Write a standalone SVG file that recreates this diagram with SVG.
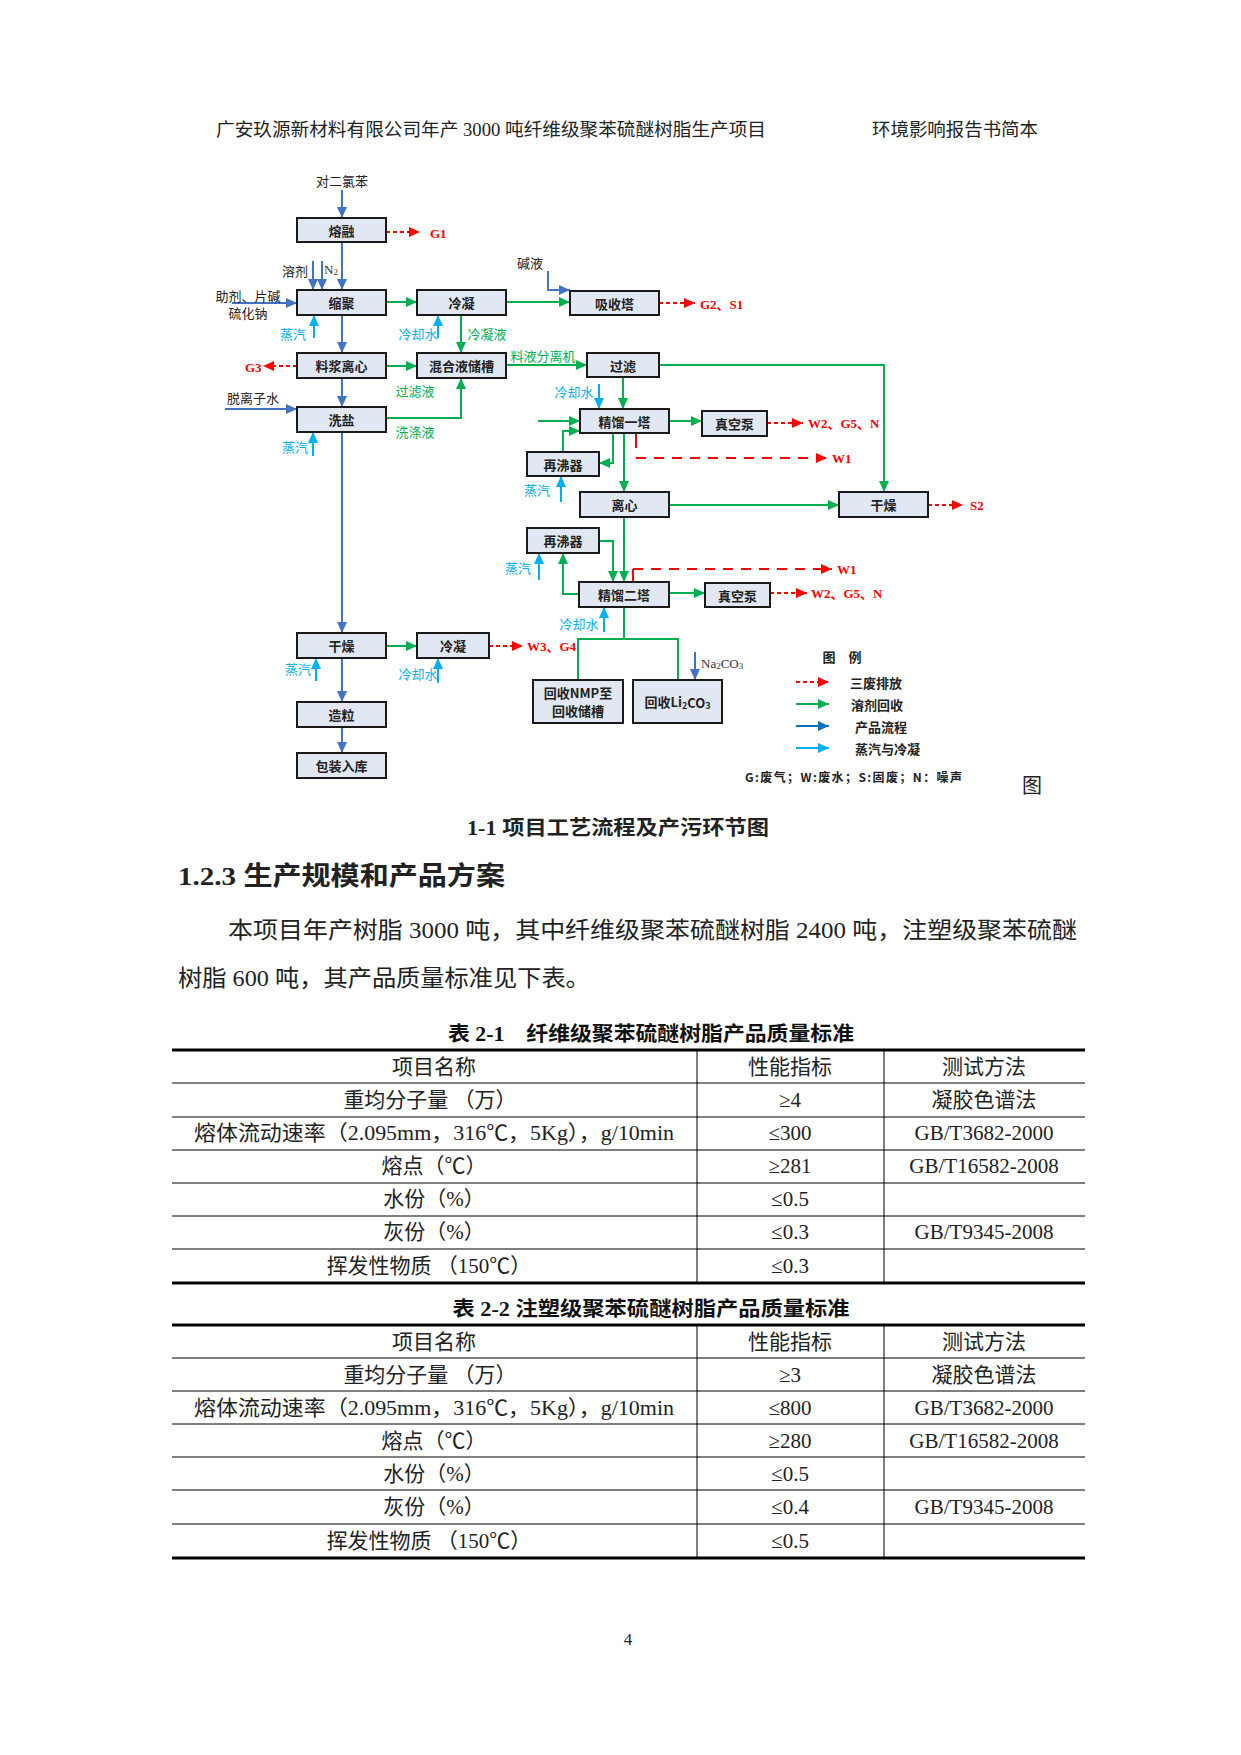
<svg xmlns="http://www.w3.org/2000/svg" width="1241" height="1755" viewBox="0 0 1241 1755">
<style>
.box{fill:#E1E8F3;stroke:#1a1a1a;stroke-width:2}
.bt{font-family:"Noto Sans CJK SC",sans-serif;font-size:13px;font-weight:bold;fill:#222;text-anchor:middle;dominant-baseline:central}
.lb{font-family:"Noto Sans CJK SC",sans-serif;font-size:13px;fill:#222;text-anchor:middle;dominant-baseline:central}
.lg{font-family:"Noto Sans CJK SC",sans-serif;font-size:13px;fill:#00B050;text-anchor:middle;dominant-baseline:central}
.ll{font-family:"Noto Sans CJK SC",sans-serif;font-size:13px;fill:#00B0F0;text-anchor:middle;dominant-baseline:central}
.lr{font-family:"Liberation Serif","Noto Sans CJK SC",serif;font-size:13px;font-weight:bold;fill:#FF0000;dominant-baseline:central}
.ls{font-family:"Liberation Serif","Noto Sans CJK SC",serif;font-size:13px;fill:#333;dominant-baseline:central}
.cb{stroke:#4472C4;stroke-width:2;fill:none;marker-end:url(#ab)}
.cg{stroke:#00B050;stroke-width:2;fill:none;marker-end:url(#ag)}
.cgn{stroke:#00B050;stroke-width:2;fill:none}
.cl{stroke:#00B0F0;stroke-width:2;fill:none;marker-end:url(#al)}
.cd{stroke:#0070C0;stroke-width:2;fill:none;marker-end:url(#ad)}
.cr{stroke:#FF0000;stroke-width:2;fill:none;stroke-dasharray:4 3;marker-end:url(#ar)}
.crl{stroke:#FF0000;stroke-width:2;fill:none;stroke-dasharray:10 8;marker-end:url(#ar)}
.crs{stroke:#FF0000;stroke-width:2;fill:none}
.doc{font-family:"Liberation Serif","Noto Sans CJK SC",serif;fill:#222}
.tt{font-family:"Liberation Serif","Noto Sans CJK SC",serif;font-size:21px;fill:#222;text-anchor:middle;dominant-baseline:central}
.th{font-family:"Liberation Serif","Noto Sans CJK SC",serif;font-size:20px;font-weight:bold;fill:#111;text-anchor:middle;dominant-baseline:central}
.thick{stroke:#000;stroke-width:3}
.thin{stroke:#000;stroke-width:1}
</style>
<defs>
<marker id="ab" viewBox="0 0 11 10" refX="11" refY="5" markerWidth="11" markerHeight="10" markerUnits="userSpaceOnUse" orient="auto"><path d="M0,0 L11,5 L0,10z" fill="#4472C4"/></marker>
<marker id="ag" viewBox="0 0 11 10" refX="11" refY="5" markerWidth="11" markerHeight="10" markerUnits="userSpaceOnUse" orient="auto"><path d="M0,0 L11,5 L0,10z" fill="#00B050"/></marker>
<marker id="al" viewBox="0 0 11 10" refX="11" refY="5" markerWidth="11" markerHeight="10" markerUnits="userSpaceOnUse" orient="auto"><path d="M0,0 L11,5 L0,10z" fill="#00B0F0"/></marker>
<marker id="ad" viewBox="0 0 11 10" refX="11" refY="5" markerWidth="11" markerHeight="10" markerUnits="userSpaceOnUse" orient="auto"><path d="M0,0 L11,5 L0,10z" fill="#0070C0"/></marker>
<marker id="ar" viewBox="0 0 11 10" refX="11" refY="5" markerWidth="11" markerHeight="10" markerUnits="userSpaceOnUse" orient="auto"><path d="M0,0 L11,5 L0,10z" fill="#FF0000"/></marker>
</defs>
<rect width="1241" height="1755" fill="#fff"/>

<!-- page header -->
<text class="doc" x="216" y="136" font-size="18" textLength="550" lengthAdjust="spacingAndGlyphs">广安玖源新材料有限公司年产 3000 吨纤维级聚苯硫醚树脂生产项目</text>
<text class="doc" x="872" y="136" font-size="18" textLength="166" lengthAdjust="spacingAndGlyphs">环境影响报告书简本</text>

<!-- connectors -->
<g id="connectors">
<!-- blue product flow -->
<line class="cb" x1="342" y1="190" x2="342" y2="218"/>
<line class="cb" x1="342" y1="242" x2="342" y2="290"/>
<line class="cb" x1="313" y1="261" x2="313" y2="290"/>
<line class="cb" x1="322" y1="261" x2="322" y2="290"/>
<line class="cb" x1="232" y1="303" x2="297" y2="303"/>
<line class="cb" x1="342" y1="315" x2="342" y2="353"/>
<line class="cb" x1="342" y1="378" x2="342" y2="407"/>
<line class="cb" x1="225" y1="409" x2="297" y2="409"/>
<line class="cb" x1="342" y1="432" x2="342" y2="633"/>
<line class="cb" x1="342" y1="658" x2="342" y2="702"/>
<line class="cb" x1="342" y1="727" x2="342" y2="753"/>
<polyline class="cb" points="548,271 548,290 570,290"/>
<line class="cb" x1="695" y1="652" x2="695" y2="680"/>
<!-- light blue steam / cooling -->
<line class="cl" x1="314" y1="338" x2="314" y2="315"/>
<line class="cl" x1="438" y1="338" x2="438" y2="315"/>
<line class="cl" x1="313" y1="456" x2="313" y2="432"/>
<line class="cl" x1="599" y1="384" x2="599" y2="409"/>
<line class="cl" x1="561" y1="502" x2="561" y2="476"/>
<line class="cl" x1="539" y1="580" x2="539" y2="553"/>
<line class="cl" x1="604" y1="632" x2="604" y2="607"/>
<line class="cl" x1="316" y1="681" x2="316" y2="658"/>
<line class="cl" x1="438" y1="683" x2="438" y2="658"/>
<!-- green solvent recovery -->
<line class="cg" x1="386" y1="302" x2="417" y2="302"/>
<line class="cg" x1="506" y1="302" x2="570" y2="302"/>
<line class="cg" x1="461" y1="315" x2="461" y2="353"/>
<line class="cg" x1="386" y1="366" x2="417" y2="366"/>
<polyline class="cg" points="386,418 461,418 461,378"/>
<line class="cg" x1="506" y1="365" x2="587" y2="365"/>
<polyline class="cg" points="659,365 884,365 884,492"/>
<line class="cg" x1="623" y1="377" x2="623" y2="409"/>
<line class="cg" x1="538" y1="421" x2="580" y2="421"/>
<line class="cg" x1="669" y1="421" x2="702" y2="421"/>
<polyline class="cg" points="613,433 613,463 599,463"/>
<polyline class="cg" points="563,452 563,431 580,431"/>
<line class="cg" x1="624" y1="433" x2="624" y2="492"/>
<line class="cg" x1="669" y1="505" x2="839" y2="505"/>
<line class="cg" x1="624" y1="517" x2="624" y2="582"/>
<polyline class="cg" points="599,541 613,541 613,582"/>
<polyline class="cg" points="579,594 563,594 563,553"/>
<line class="cg" x1="669" y1="593" x2="705" y2="593"/>
<polyline class="cgn" points="624,607 624,639"/>
<polyline class="cgn" points="578,680 578,639 678,639 678,680"/>
<line class="cg" x1="386" y1="646" x2="417" y2="646"/>
<!-- red emissions -->
<line class="cr" x1="386" y1="232" x2="420" y2="232"/>
<line class="cr" x1="659" y1="303" x2="695" y2="303"/>
<line class="cr" x1="297" y1="366" x2="263" y2="366"/>
<line class="cr" x1="767" y1="423" x2="803" y2="423"/>
<line class="crs" x1="636" y1="433" x2="636" y2="448"/>
<line class="crl" x1="636" y1="458" x2="827" y2="458"/>
<line class="cr" x1="770" y1="593" x2="807" y2="593"/>
<line class="crs" x1="633" y1="569" x2="633" y2="582"/>
<line class="crl" x1="633" y1="569" x2="832" y2="569"/>
<line class="cr" x1="489" y1="646" x2="523" y2="646"/>
<line class="cr" x1="928" y1="505" x2="963" y2="505"/>
</g>

<!-- nodes -->
<g id="n-rongrong"><rect class="box" x="297" y="218" width="89" height="24"/><text class="bt" x="341.5" y="230">熔融</text></g>
<g id="n-suoju"><rect class="box" x="297" y="290" width="89" height="25"/><text class="bt" x="341.5" y="302.5">缩聚</text></g>
<g id="n-lengning1"><rect class="box" x="417" y="290" width="89" height="25"/><text class="bt" x="461.5" y="302.5">冷凝</text></g>
<g id="n-xishouta"><rect class="box" x="570" y="291" width="89" height="24"/><text class="bt" x="614.5" y="303">吸收塔</text></g>
<g id="n-liaojiang"><rect class="box" x="297" y="353" width="89" height="25"/><text class="bt" x="341.5" y="365.5">料浆离心</text></g>
<g id="n-hunhe"><rect class="box" x="417" y="353" width="89" height="25"/><text class="bt" x="461.5" y="365.5">混合液储槽</text></g>
<g id="n-guolv"><rect class="box" x="587" y="353" width="72" height="24"/><text class="bt" x="623" y="365">过滤</text></g>
<g id="n-xiyan"><rect class="box" x="297" y="407" width="89" height="25"/><text class="bt" x="341.5" y="419.5">洗盐</text></g>
<g id="n-jingliu1"><rect class="box" x="580" y="409" width="89" height="24"/><text class="bt" x="624.5" y="421">精馏一塔</text></g>
<g id="n-zhenkong1"><rect class="box" x="702" y="411" width="65" height="25"/><text class="bt" x="734.5" y="423.5">真空泵</text></g>
<g id="n-feiqi1"><rect class="box" x="527" y="452" width="72" height="24"/><text class="bt" x="563" y="464">再沸器</text></g>
<g id="n-lixin"><rect class="box" x="580" y="492" width="89" height="25"/><text class="bt" x="624.5" y="504.5">离心</text></g>
<g id="n-ganzao2"><rect class="box" x="839" y="492" width="89" height="25"/><text class="bt" x="883.5" y="504.5">干燥</text></g>
<g id="n-feiqi2"><rect class="box" x="527" y="528" width="72" height="25"/><text class="bt" x="563" y="540.5">再沸器</text></g>
<g id="n-jingliu2"><rect class="box" x="579" y="582" width="90" height="25"/><text class="bt" x="624" y="594.5">精馏二塔</text></g>
<g id="n-zhenkong2"><rect class="box" x="705" y="583" width="65" height="24"/><text class="bt" x="737.5" y="595">真空泵</text></g>
<g id="n-ganzao1"><rect class="box" x="297" y="633" width="89" height="25"/><text class="bt" x="341.5" y="645.5">干燥</text></g>
<g id="n-lengning2"><rect class="box" x="417" y="633" width="72" height="25"/><text class="bt" x="453" y="645.5">冷凝</text></g>
<g id="n-zaoli"><rect class="box" x="297" y="702" width="89" height="25"/><text class="bt" x="341.5" y="714.5">造粒</text></g>
<g id="n-baozhuang"><rect class="box" x="297" y="753" width="89" height="25"/><text class="bt" x="341.5" y="765.5">包装入库</text></g>
<g id="n-nmp"><rect class="box" x="533" y="680" width="90" height="43"/><text class="bt" x="578" y="692">回收NMP至</text><text class="bt" x="578" y="710">回收储槽</text></g>
<g id="n-li2co3"><rect class="box" x="633" y="680" width="89" height="43"/><text class="bt" x="677.5" y="701.5">回收Li<tspan font-size="9" dy="3">2</tspan><tspan dy="-3">CO</tspan><tspan font-size="9" dy="3">3</tspan></text></g>

<!-- labels -->
<g id="labels">
<text class="lb" x="342" y="180">对二氯苯</text>
<text class="lb" x="295" y="270">溶剂</text>
<text class="ls" x="324" y="269">N<tspan font-size="9" dy="3">2</tspan></text>
<text class="lb" x="248" y="295" font-size="12">助剂、片碱</text>
<text class="lb" x="248" y="312" font-size="12">硫化钠</text>
<text class="lb" x="530" y="262">碱液</text>
<text class="lb" x="253" y="397">脱离子水</text>
<text class="ls" x="701" y="663">Na<tspan font-size="9" dy="3">2</tspan><tspan dy="-3">CO</tspan><tspan font-size="9" dy="3">3</tspan></text>
<text class="ll" x="293" y="333">蒸汽</text>
<text class="ll" x="418" y="333">冷却水</text>
<text class="ll" x="295" y="446">蒸汽</text>
<text class="ll" x="574" y="391">冷却水</text>
<text class="ll" x="537" y="489">蒸汽</text>
<text class="ll" x="518" y="567">蒸汽</text>
<text class="ll" x="579" y="623">冷却水</text>
<text class="ll" x="298" y="668">蒸汽</text>
<text class="ll" x="418" y="673">冷却水</text>
<text class="lg" x="487" y="333">冷凝液</text>
<text class="lg" x="543" y="355">料液分离机</text>
<text class="lg" x="415" y="390">过滤液</text>
<text class="lg" x="415" y="431">洗涤液</text>
<text class="lr" x="430" y="233">G1</text>
<text class="lr" x="700" y="304">G2、S1</text>
<text class="lr" x="245" y="367">G3</text>
<text class="lr" x="808" y="423">W2、G5、N</text>
<text class="lr" x="832" y="458">W1</text>
<text class="lr" x="811" y="593">W2、G5、N</text>
<text class="lr" x="837" y="569">W1</text>
<text class="lr" x="527" y="646">W3、G4</text>
<text class="lr" x="970" y="505">S2</text>
</g>

<!-- legend -->
<g id="legend">
<text class="bt" x="842" y="656">图　例</text>
<line class="cr" x1="796" y1="682" x2="829" y2="682"/>
<text class="bt" x="850" y="682" style="text-anchor:start">三废排放</text>
<line class="cg" x1="796" y1="704" x2="829" y2="704"/>
<text class="bt" x="851" y="704" style="text-anchor:start">溶剂回收</text>
<line class="cd" x1="796" y1="726" x2="829" y2="726"/>
<text class="bt" x="855" y="726" style="text-anchor:start">产品流程</text>
<line class="cl" x1="796" y1="748" x2="829" y2="748"/>
<text class="bt" x="855" y="748" style="text-anchor:start">蒸汽与冷凝</text>
<text class="bt" x="745" y="776" style="text-anchor:start;font-size:12px" textLength="217">G:废气；W:废水；S:固废；N：噪声</text>
</g>

<text class="doc" x="1032" y="786" font-size="20" text-anchor="middle" dominant-baseline="central">图</text>

<!-- caption and body text -->
<text class="doc" x="467" y="835" font-size="20" font-weight="bold" textLength="302" lengthAdjust="spacingAndGlyphs">1-1 项目工艺流程及产污环节图</text>
<text class="doc" x="178" y="885" font-size="26" font-weight="bold" textLength="327" lengthAdjust="spacingAndGlyphs">1.2.3 生产规模和产品方案</text>
<text class="doc" x="228" y="938" font-size="23" textLength="849" lengthAdjust="spacingAndGlyphs">本项目年产树脂 3000 吨，其中纤维级聚苯硫醚树脂 2400 吨，注塑级聚苯硫醚</text>
<text class="doc" x="178" y="986" font-size="23" textLength="412" lengthAdjust="spacingAndGlyphs">树脂 600 吨，其产品质量标准见下表。</text>

<!-- table 2-1 -->
<text class="th" x="651" y="1034" textLength="406" lengthAdjust="spacingAndGlyphs">表 2-1　纤维级聚苯硫醚树脂产品质量标准</text>
<line class="thick" x1="172" y1="1050" x2="1085" y2="1050"/>
<line class="thin" x1="172" y1="1083" x2="1085" y2="1083"/>
<line class="thin" x1="172" y1="1117" x2="1085" y2="1117"/>
<line class="thin" x1="172" y1="1150" x2="1085" y2="1150"/>
<line class="thin" x1="172" y1="1183" x2="1085" y2="1183"/>
<line class="thin" x1="172" y1="1216" x2="1085" y2="1216"/>
<line class="thin" x1="172" y1="1249" x2="1085" y2="1249"/>
<line class="thick" x1="172" y1="1283" x2="1085" y2="1283"/>
<line class="thin" x1="697" y1="1050" x2="697" y2="1283"/>
<line class="thin" x1="884" y1="1050" x2="884" y2="1283"/>
<text class="tt" x="434" y="1067">项目名称</text><text class="tt" x="790" y="1067">性能指标</text><text class="tt" x="984" y="1067">测试方法</text>
<text class="tt" x="430" y="1100">重均分子量 （万）</text><text class="tt" x="790" y="1100">≥4</text><text class="tt" x="984" y="1100">凝胶色谱法</text>
<text class="tt" x="434" y="1133" textLength="480" lengthAdjust="spacingAndGlyphs">熔体流动速率（2.095mm，316℃，5Kg），g/10min</text><text class="tt" x="790" y="1133">≤300</text><text class="tt" x="984" y="1133">GB/T3682-2000</text>
<text class="tt" x="434" y="1166">熔点（℃）</text><text class="tt" x="790" y="1166">≥281</text><text class="tt" x="984" y="1166">GB/T16582-2008</text>
<text class="tt" x="434" y="1199">水份（%）</text><text class="tt" x="790" y="1199">≤0.5</text>
<text class="tt" x="434" y="1232">灰份（%）</text><text class="tt" x="790" y="1232">≤0.3</text><text class="tt" x="984" y="1232">GB/T9345-2008</text>
<text class="tt" x="429" y="1266">挥发性物质 （150℃）</text><text class="tt" x="790" y="1266">≤0.3</text>

<!-- table 2-2 -->
<text class="th" x="651" y="1309" textLength="397" lengthAdjust="spacingAndGlyphs">表 2-2 注塑级聚苯硫醚树脂产品质量标准</text>
<line class="thick" x1="172" y1="1325" x2="1085" y2="1325"/>
<line class="thin" x1="172" y1="1358" x2="1085" y2="1358"/>
<line class="thin" x1="172" y1="1391" x2="1085" y2="1391"/>
<line class="thin" x1="172" y1="1424" x2="1085" y2="1424"/>
<line class="thin" x1="172" y1="1457" x2="1085" y2="1457"/>
<line class="thin" x1="172" y1="1490" x2="1085" y2="1490"/>
<line class="thin" x1="172" y1="1524" x2="1085" y2="1524"/>
<line class="thick" x1="172" y1="1558" x2="1085" y2="1558"/>
<line class="thin" x1="697" y1="1325" x2="697" y2="1558"/>
<line class="thin" x1="884" y1="1325" x2="884" y2="1558"/>
<text class="tt" x="434" y="1342">项目名称</text><text class="tt" x="790" y="1342">性能指标</text><text class="tt" x="984" y="1342">测试方法</text>
<text class="tt" x="430" y="1375">重均分子量 （万）</text><text class="tt" x="790" y="1375">≥3</text><text class="tt" x="984" y="1375">凝胶色谱法</text>
<text class="tt" x="434" y="1408" textLength="480" lengthAdjust="spacingAndGlyphs">熔体流动速率（2.095mm，316℃，5Kg），g/10min</text><text class="tt" x="790" y="1408">≤800</text><text class="tt" x="984" y="1408">GB/T3682-2000</text>
<text class="tt" x="434" y="1441">熔点（℃）</text><text class="tt" x="790" y="1441">≥280</text><text class="tt" x="984" y="1441">GB/T16582-2008</text>
<text class="tt" x="434" y="1474">水份（%）</text><text class="tt" x="790" y="1474">≤0.5</text>
<text class="tt" x="434" y="1507">灰份（%）</text><text class="tt" x="790" y="1507">≤0.4</text><text class="tt" x="984" y="1507">GB/T9345-2008</text>
<text class="tt" x="429" y="1541">挥发性物质 （150℃）</text><text class="tt" x="790" y="1541">≤0.5</text>

<text class="doc" x="628" y="1639" font-size="17" text-anchor="middle" dominant-baseline="central">4</text>
</svg>
